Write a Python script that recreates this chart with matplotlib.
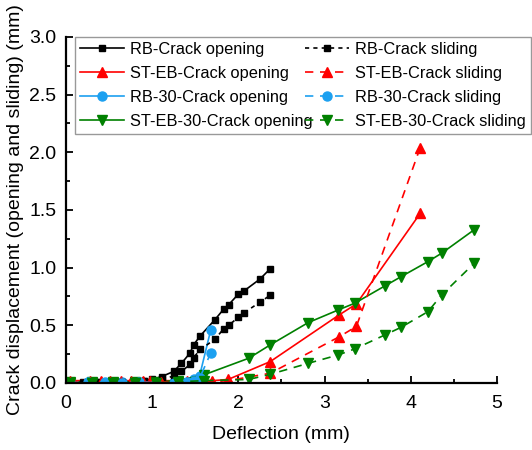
import matplotlib
matplotlib.use("Agg")
import matplotlib.pyplot as plt
from matplotlib.ticker import MultipleLocator

plt.rcParams['font.family'] = ['Liberation Sans', 'DejaVu Sans']

# RB
x_rb = [0.05, 0.2, 0.35, 0.5, 0.65, 0.8, 0.9, 1.0, 1.11, 1.25, 1.34, 1.44, 1.48, 1.56, 1.73, 1.83, 1.89, 2.0, 2.07, 2.25, 2.37]
rb_open = [0.01, 0.01, 0.01, 0.01, 0.01, 0.02, 0.02, 0.03, 0.055, 0.10, 0.17, 0.26, 0.33, 0.41, 0.55, 0.64, 0.68, 0.77, 0.80, 0.90, 0.99]
rb_slide = [0.0, 0.0, 0.01, 0.01, 0.01, 0.01, 0.02, 0.02, 0.03, 0.06, 0.10, 0.16, 0.22, 0.29, 0.38, 0.47, 0.50, 0.57, 0.61, 0.70, 0.76]

# ST-EB
x_st = [0.05, 0.28, 0.41, 0.51, 0.64, 0.76, 0.89, 0.98, 1.1, 1.25, 1.4, 1.55, 1.7, 1.88, 2.37, 3.17, 3.37, 4.11]
st_open = [0.02, 0.02, 0.02, 0.02, 0.02, 0.02, 0.02, 0.02, 0.02, 0.02, 0.02, 0.02, 0.02, 0.03, 0.185, 0.59, 0.685, 1.47]
st_slide = [0.01, 0.01, 0.01, 0.01, 0.01, 0.01, 0.01, 0.01, 0.01, 0.01, 0.01, 0.01, 0.01, 0.02, 0.084, 0.40, 0.49, 2.04]

# RB-30
x_rb30 = [0.05, 0.25, 0.45, 0.65, 0.85, 1.05, 1.25, 1.4, 1.48, 1.55, 1.68]
rb30_open = [0.01, 0.01, 0.0, 0.01, 0.01, 0.01, 0.01, 0.01, 0.03, 0.06, 0.46]
rb30_slide = [0.0, 0.01, 0.01, 0.0, 0.01, 0.0, 0.0, 0.01, 0.02, 0.04, 0.26]

# ST-EB-30
x_st30 = [0.05, 0.3, 0.55, 0.8, 1.05, 1.3, 1.6, 2.12, 2.37, 2.81, 3.16, 3.35, 3.70, 3.89, 4.20, 4.36, 4.74]
st30_open = [0.01, 0.01, 0.01, 0.01, 0.01, 0.02, 0.07, 0.214, 0.33, 0.523, 0.633, 0.691, 0.841, 0.922, 1.052, 1.125, 1.33]
st30_slide = [0.0, 0.0, 0.0, 0.0, 0.0, 0.01, 0.02, 0.03, 0.075, 0.17, 0.243, 0.295, 0.416, 0.483, 0.618, 0.763, 1.04]

blue = '#1CA0F0'
green = '#008000'

fig = plt.figure(figsize=(5.32, 4.5), dpi=100)
ax = fig.add_axes([0.124, 0.149, 0.810, 0.769])

short_dash = (0, (2.5, 2.5))
long_dash = (0, (5, 4))

h = []
h += ax.plot(x_rb, rb_open, color='black', marker='s', ms=5, lw=1.2, label='RB-Crack opening')
h += ax.plot(x_st, st_open, color='red', marker='^', ms=7, lw=1.2, label='ST-EB-Crack opening')
h += ax.plot(x_rb30, rb30_open, color=blue, marker='o', ms=6.5, lw=1.2, label='RB-30-Crack opening')
h += ax.plot(x_st30, st30_open, color=green, marker='v', ms=7, lw=1.2, label='ST-EB-30-Crack opening')
h += ax.plot(x_rb, rb_slide, color='black', marker='s', ms=5, lw=1.2, linestyle=short_dash, label='RB-Crack sliding')
h += ax.plot(x_st, st_slide, color='red', marker='^', ms=7, lw=1.2, linestyle=long_dash, label='ST-EB-Crack sliding')
h += ax.plot(x_rb30, rb30_slide, color=blue, marker='o', ms=6.5, lw=1.2, linestyle=long_dash, label='RB-30-Crack sliding')
h += ax.plot(x_st30, st30_slide, color=green, marker='v', ms=7, lw=1.2, linestyle=long_dash, label='ST-EB-30-Crack sliding')

ax.set_xlim(0, 5)
ax.set_ylim(0, 3.0)
ax.xaxis.set_major_locator(MultipleLocator(1))
ax.xaxis.set_minor_locator(MultipleLocator(0.5))
ax.yaxis.set_major_locator(MultipleLocator(0.5))
ax.yaxis.set_minor_locator(MultipleLocator(0.25))
ax.set_yticklabels(['%.1f' % v for v in ax.get_yticks()])

ax.spines['top'].set_visible(False)
ax.spines['right'].set_visible(False)
ax.spines['left'].set_linewidth(1.6)
ax.spines['bottom'].set_linewidth(1.6)
ax.tick_params(which='major', direction='in', length=5, width=1.3, labelsize=14)
ax.tick_params(axis='x', which='major', pad=9)
ax.tick_params(axis='y', which='major', pad=7)
ax.tick_params(which='minor', direction='in', length=3, width=1.3)

ax.set_xlabel('Deflection (mm)', fontsize=14, labelpad=10)
ax.set_ylabel('Crack displacement (opening and sliding) (mm)', fontsize=14, labelpad=4)

ax.legend(handles=h, ncol=2, loc='upper left', bbox_to_anchor=(0.141, 0.918),
          bbox_transform=fig.transFigure, fontsize=11.8, fancybox=False,
          edgecolor='#999999', framealpha=1, borderaxespad=0, handlelength=2.7,
          handletextpad=0.35, columnspacing=-0.45, labelspacing=0.55, borderpad=0.3)

fig.savefig('out.png', dpi=100)
